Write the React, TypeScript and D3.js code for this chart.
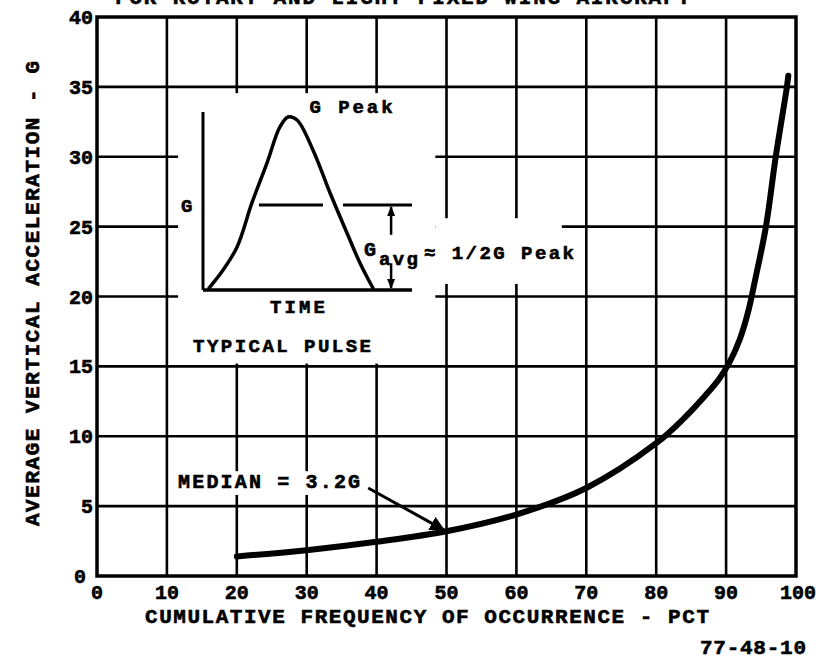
import React from 'react';
import * as d3 from 'd3';

// cumulative frequency (pct) vs average vertical acceleration (G)
const pctValues = [20, 30, 40, 50, 60, 70, 80, 84, 87, 89, 90.5, 92, 93.2, 94.2, 95.7, 97.1, 98.7, 98.9];
const gValues = [1.4, 1.85, 2.45, 3.2, 4.4, 6.3, 9.5, 11.3, 12.9, 14.1, 15.3, 17.0, 19.0, 21.3, 25, 30, 35, 35.8];

const xTicks = [0, 10, 20, 30, 40, 50, 60, 70, 80, 90, 100];
const yTicks = [0, 5, 10, 15, 20, 25, 30, 35, 40];

// inset "typical pulse" sketch (arbitrary units 0..10)
const pulseTime = [0.29, 0.96, 1.63, 2.34, 3.06, 3.68, 4.07, 4.5, 5.26, 6.08, 6.89, 7.51, 8.13];
const pulseG = [0.11, 1.12, 2.42, 4.89, 7.13, 9.16, 9.72, 9.55, 7.87, 5.45, 3.2, 1.52, 0.11];
const avgLevel = 4.78;

const FONT = "'Liberation Mono', 'DejaVu Sans Mono', monospace";

export default function App() {
  const width = 820;
  const height = 662;

  const x = d3.scaleLinear().domain([0, 100]).range([97, 796]);
  const y = d3.scaleLinear().domain([0, 40]).range([576, 17]);

  // inset scales
  const ix = d3.scaleLinear().domain([0, 10]).range([203, 412]);
  const iy = d3.scaleLinear().domain([0, 10]).range([290, 112]);

  const curve = d3.line<number>()
    .x((_, i) => x(pctValues[i]))
    .y(d => y(d))
    .curve(d3.curveCatmullRom.alpha(0.5))(gValues) as string;

  const pulse = d3.line<number>()
    .x((_, i) => ix(pulseTime[i]))
    .y(d => iy(d))
    .curve(d3.curveCatmullRom.alpha(0.5))(pulseG) as string;

  // heavy typewriter look
  const txt = { fontFamily: FONT, fontWeight: 700 as const, fill: '#000', stroke: '#000', strokeWidth: 0.6 };

  return (
    <svg width={width} height={height} style={{ position: 'absolute', left: 0, top: 0, background: '#fff' }}>
      <defs>
        <marker id="head" viewBox="0 0 10 10" refX="9" refY="5" markerWidth="5" markerHeight="5" orient="auto">
          <path d="M0,0 L10,5 L0,10 z" fill="#000" />
        </marker>
        <marker id="small" viewBox="0 0 10 10" refX="9" refY="5" markerWidth="4" markerHeight="4" orient="auto">
          <path d="M0,1 L10,5 L0,9 z" fill="#000" />
        </marker>
      </defs>
      <rect width={width} height={height} fill="#fff" />

      {/* heading, cut off at the top edge as in the scan */}
      <text x={115} y={4} fontSize={21} textLength={575} lengthAdjust="spacing" {...txt}>
        FOR ROTARY AND LIGHT FIXED WING AIRCRAFT
      </text>

      {/* grid */}
      {xTicks.slice(1, -1).map(t => (
        <line key={'vx' + t} x1={x(t)} x2={x(t)} y1={y(0)} y2={y(40)} stroke="#000" strokeWidth={2.6} />
      ))}
      {yTicks.slice(1, -1).map(t => (
        <line key={'hy' + t} x1={x(0)} x2={x(100)} y1={y(t)} y2={y(t)} stroke="#000" strokeWidth={2.6} />
      ))}

      {/* white areas behind the inset and notes */}
      <rect x={x(11.6)} y={y(34.55)} width={x(48.4) - x(11.6)} height={y(15.2) - y(34.55)} fill="#fff" />
      <rect x={x(48.4)} y={y(25.6)} width={x(66.5) - x(48.4)} height={y(20.9) - y(25.6)} fill="#fff" />
      <rect x={x(11.2)} y={y(7.5)} width={x(38.0) - x(11.2)} height={y(5.8) - y(7.5)} fill="#fff" />

      {/* frame */}
      <rect x={x(0)} y={y(40)} width={x(100) - x(0)} height={y(0) - y(40)} fill="none" stroke="#000" strokeWidth={3.5} />

      {/* ticks */}
      {xTicks.map(t => (
        <text key={'xt' + t} x={x(t) + (t === 100 ? 2 : 0)} y={599} fontSize={20} textAnchor="middle" {...txt}>{t}</text>
      ))}
      {yTicks.map(t => (
        <text key={'yt' + t} x={t === 0 ? 86 : 93} y={y(t) + 7} fontSize={20} textAnchor="end" {...txt}>{t}</text>
      ))}

      {/* axis titles */}
      <text x={145} y={623} fontSize={21} textLength={564} lengthAdjust="spacing" {...txt}>
        CUMULATIVE FREQUENCY OF OCCURRENCE - PCT
      </text>
      <text x={700} y={654} fontSize={21} textLength={106} lengthAdjust="spacing" {...txt}>77-48-10</text>
      <text transform="translate(39,526) rotate(-90)" x={0} y={0} fontSize={21} textLength={465} lengthAdjust="spacing" {...txt}>
        AVERAGE VERTICAL ACCELERATION - G
      </text>

      {/* main curve */}
      <path d={curve} fill="none" stroke="#000" strokeWidth={6} strokeLinecap="round" strokeLinejoin="round" />

      {/* median note */}
      <text x={x(11.6)} y={y(6.3)} fontSize={20} textLength={182} lengthAdjust="spacing" {...txt}>MEDIAN = 3.2G</text>
      <line x1={x(38.8)} y1={y(6.3)} x2={x(49.6)} y2={y(3.3)} stroke="#000" strokeWidth={3} markerEnd="url(#head)" />

      {/* inset: typical pulse */}
      <line x1={ix(0)} x2={ix(0)} y1={iy(10)} y2={iy(0)} stroke="#000" strokeWidth={3} />
      <line x1={ix(0)} x2={ix(10)} y1={iy(0)} y2={iy(0)} stroke="#000" strokeWidth={3.5} />
      <path d={pulse} fill="none" stroke="#000" strokeWidth={3.5} strokeLinecap="round" strokeLinejoin="round" />
      <line x1={ix(2.68)} x2={ix(5.74)} y1={iy(avgLevel)} y2={iy(avgLevel)} stroke="#000" strokeWidth={3} />
      <line x1={ix(6.7)} x2={ix(10)} y1={iy(avgLevel)} y2={iy(avgLevel)} stroke="#000" strokeWidth={3} />
      <line x1={ix(9.0)} x2={ix(9.0)} y1={iy(3.1)} y2={iy(avgLevel) + 2} stroke="#000" strokeWidth={2.5} markerEnd="url(#small)" />
      <line x1={ix(9.0)} x2={ix(9.0)} y1={iy(1.5)} y2={iy(0) - 2} stroke="#000" strokeWidth={2.5} markerEnd="url(#small)" />

      <text x={ix(5.1)} y={113} fontSize={19} textLength={83} lengthAdjust="spacing" {...txt}>G Peak</text>
      <text x={181} y={iy(avgLevel) + 7} fontSize={19} {...txt}>G</text>
      <text x={ix(3.2)} y={iy(-1.3)} fontSize={19} textLength={55} lengthAdjust="spacing" {...txt}>TIME</text>
      <text x={193} y={352} fontSize={19} textLength={178} lengthAdjust="spacing" {...txt}>TYPICAL PULSE</text>
      <text x={364} y={256} fontSize={20} {...txt}>G</text>
      <text x={379} y={265} fontSize={19} textLength={39} lengthAdjust="spacing" {...txt}>avg</text>
      <text x={424} y={259} fontSize={19} textLength={150} lengthAdjust="spacing" {...txt}>≈ 1/2G Peak</text>
    </svg>
  );
}
